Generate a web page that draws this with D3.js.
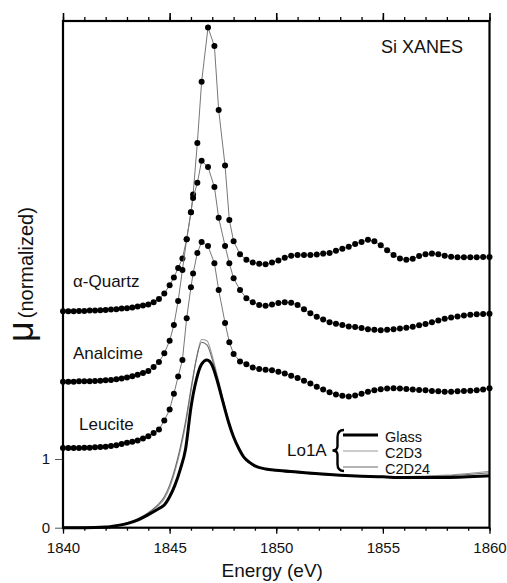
<!DOCTYPE html>
<html><head><meta charset="utf-8">
<script src="https://cdn.jsdelivr.net/npm/d3@7"></script>
<style>body{margin:0;background:#fff}svg{display:block}text{font-family:"Liberation Sans",Arial,sans-serif;fill:#111}</style>
</head><body><svg id="c" width="507" height="583"></svg>
<script>
// ---- data ----
const energyMinerals = [1840,1840.25,1840.5,1840.75,1841,1841.25,1841.5,1841.75,1842,1842.25,1842.5,1842.75,1843,1843.25,1843.5,1843.75,1844,1844.25,1844.5,
1844.75,1845,1845.2,1845.4,1845.6,1845.8,1846,1846.1,1846.3,1846.5,1846.8,1847.1,1847.3,1847.6,1847.8,1848,1848.3,1848.6,1848.9,
1849.2,1849.5,1849.8,1850.1,1850.4,1850.7,1851,1851.3,1851.6,1851.9,1852.2,1852.5,1852.8,1853.1,1853.4,1853.7,1854,1854.3,1854.6,1854.9,1855.2,1855.5,1855.8,1856.1,1856.4,1856.7,1857,1857.3,1857.6,1857.9,1858.2,1858.5,1858.8,1859.1,1859.4,1859.7,1860];
const quartz = [3.15,3.15,3.15,3.155,3.155,3.16,3.16,3.165,3.17,3.175,3.18,3.19,3.195,3.205,3.22,3.235,3.25,3.28,3.33,
3.41,3.53,3.64,3.78,3.92,4.20,4.59,4.85,5.60,6.49,7.28,7.01,6.08,5.27,4.48,4.17,3.98,3.90,3.86,
3.84,3.835,3.86,3.89,3.93,3.96,3.97,3.97,3.97,3.975,3.99,4.00,4.03,4.06,4.09,4.13,4.16,4.19,4.17,4.11,4.04,3.97,3.92,3.90,3.915,3.955,3.98,3.99,3.98,3.96,3.945,3.935,3.935,3.935,3.935,3.94,3.94];
const analcime = [2.125,2.125,2.125,2.13,2.13,2.13,2.135,2.14,2.145,2.15,2.16,2.17,2.185,2.205,2.225,2.25,2.28,2.34,2.41,
2.54,2.72,2.95,3.30,3.75,4.20,4.59,4.80,5.02,5.34,5.25,4.96,4.51,4.10,3.85,3.63,3.46,3.34,3.28,
3.24,3.23,3.25,3.27,3.28,3.275,3.24,3.18,3.12,3.07,3.03,2.99,2.97,2.95,2.93,2.92,2.905,2.89,2.88,2.875,2.88,2.89,2.90,2.91,2.925,2.945,2.965,2.99,3.015,3.04,3.06,3.075,3.09,3.10,3.105,3.11,3.115];
const leucite = [1.16,1.16,1.16,1.16,1.165,1.165,1.17,1.175,1.18,1.19,1.20,1.22,1.235,1.25,1.27,1.30,1.33,1.38,1.43,
1.56,1.72,1.95,2.20,2.44,3.05,3.50,3.70,4.00,4.16,4.10,3.85,3.46,2.98,2.70,2.53,2.42,2.38,2.33,
2.31,2.30,2.29,2.27,2.245,2.21,2.18,2.14,2.10,2.05,2.01,1.97,1.94,1.92,1.91,1.925,1.95,1.98,2.00,2.015,2.025,2.03,2.025,2.02,2.01,2.005,2.0,1.99,1.985,1.98,1.98,1.985,1.99,1.995,2.0,2.01,2.03];

const energyGlass = [1840,1841,1842,1842.5,1843,1843.5,1844,1844.5,1844.75,1845,1845.25,1845.5,1845.75,1846,1846.25,1846.5,1846.75,1847,1847.25,1847.5,1847.75,1848,1848.25,1848.5,1848.75,1849,1849.5,1850,1851,1852,1853,1854,1855,1856,1857,1858,1859,1860];
const glass = [0,0,0.01,0.03,0.06,0.11,0.19,0.28,0.33,0.45,0.62,0.85,1.15,1.75,2.15,2.38,2.44,2.36,2.12,1.83,1.55,1.32,1.15,1.02,0.95,0.9,0.855,0.835,0.81,0.785,0.765,0.75,0.74,0.73,0.73,0.73,0.74,0.755];
const c2d3 = [0,0,0.01,0.03,0.06,0.12,0.21,0.33,0.42,0.58,0.82,1.12,1.50,1.98,2.45,2.74,2.72,2.50,2.20,1.88,1.58,1.33,1.15,1.02,0.95,0.9,0.855,0.835,0.80,0.775,0.76,0.75,0.745,0.745,0.75,0.765,0.79,0.82];
const c2d24 = [0,0,0.01,0.03,0.07,0.13,0.22,0.35,0.45,0.62,0.86,1.17,1.55,2.02,2.45,2.70,2.66,2.45,2.16,1.85,1.56,1.32,1.14,1.01,0.945,0.895,0.855,0.83,0.80,0.775,0.76,0.75,0.745,0.74,0.745,0.755,0.775,0.80];

const xTickValues = [1840,1845,1850,1855,1860];
const xMinorValues = d3.range(1840,1861,1);
const yTickValues = [0,1];
const mineralNames = ["α-Quartz","Analcime","Leucite"];
const legendNames = ["Glass","C2D3","C2D24"];

// ---- layout ----
const L = 63, R = 489.5, T = 21, B = 527.7;
const x = d3.scaleLinear().domain([1840,1860]).range([L,R]);
const y = d3.scaleLinear().domain([0,7.375]).range([B,T]);
const svg = d3.select("#c");

// glass curves
const gl = d3.line().x((d,i)=>x(energyGlass[i])).y(d=>y(d)).curve(d3.curveMonotoneX);
svg.append("path").attr("d",gl(c2d3)).attr("fill","none").attr("stroke","#9a9a9a").attr("stroke-width",1.1);
svg.append("path").attr("d",gl(c2d24)).attr("fill","none").attr("stroke","#6a6a6a").attr("stroke-width",1.1);
svg.append("path").attr("d",gl(glass)).attr("fill","none").attr("stroke","#000").attr("stroke-width",3);

// mineral series
const ml = d3.line().x((d,i)=>x(energyMinerals[i])).y(d=>y(d));
[quartz, analcime, leucite].forEach(s=>{
  svg.append("path").attr("d",ml(s)).attr("fill","none").attr("stroke","#777").attr("stroke-width",1);
  svg.append("g").selectAll("circle").data(s).join("circle")
    .attr("cx",(d,i)=>x(energyMinerals[i])).attr("cy",d=>y(d)).attr("r",3).attr("fill","#000");
});

// axes
const bottomMinor = d3.axisBottom(x).tickValues(xMinorValues).tickSize(3).tickFormat("");
svg.append("g").attr("transform",`translate(0,${B})`).call(bottomMinor)
  .call(g=>{g.select(".domain").remove(); g.selectAll("line").attr("stroke","#000").attr("stroke-width",1.3);});
const bottomMajor = d3.axisBottom(x).tickValues(xTickValues).tickSize(6).tickPadding(9).tickFormat(d3.format("d"));
svg.append("g").attr("transform",`translate(0,${B})`).call(bottomMajor)
  .call(g=>{g.select(".domain").remove(); g.selectAll("line").attr("stroke","#000").attr("stroke-width",1.3);
    g.selectAll("text").attr("font-size",15).attr("font-family","Liberation Sans, Arial, sans-serif").attr("fill","#111");});
const topMinor = d3.axisTop(x).tickValues(xMinorValues).tickSize(4).tickFormat("");
svg.append("g").attr("transform",`translate(0,${T})`).call(topMinor)
  .call(g=>{g.select(".domain").remove(); g.selectAll("line").attr("stroke","#000").attr("stroke-width",1.3);});
const topMajor = d3.axisTop(x).tickValues(xTickValues).tickSize(8).tickFormat("");
svg.append("g").attr("transform",`translate(0,${T})`).call(topMajor)
  .call(g=>{g.select(".domain").remove(); g.selectAll("line").attr("stroke","#000").attr("stroke-width",1.6);});
const leftAxis = d3.axisLeft(y).tickValues(yTickValues).tickSize(8).tickPadding(5).tickFormat(d3.format("d"));
svg.append("g").attr("transform",`translate(${L},0)`).call(leftAxis)
  .call(g=>{g.select(".domain").remove(); g.selectAll("line").attr("stroke","#555").attr("stroke-width",1);
    g.selectAll("text").attr("font-size",15).attr("font-family","Liberation Sans, Arial, sans-serif").attr("fill","#111");});

// frame
svg.append("rect").attr("x",L).attr("y",T).attr("width",R-L).attr("height",B-T)
  .attr("fill","none").attr("stroke","#000").attr("stroke-width",2.2);

// labels
svg.append("text").attr("x",381).attr("y",53).attr("font-size",18).text("Si XANES");
const labelPos = [[73,287],[73,359],[79,430]];
mineralNames.forEach((n,i)=>svg.append("text").attr("x",labelPos[i][0]).attr("y",labelPos[i][1]).attr("font-size",17).text(n));

svg.append("text").attr("x",287).attr("y",456).attr("font-size",17).text("Lo1A");
svg.append("path").attr("d","M344,430 Q337.5,430 337.5,437 L337.5,446 Q337.5,450.5 332.5,450.5 Q337.5,450.5 337.5,455 L337.5,464 Q337.5,471 344,471")
  .attr("fill","none").attr("stroke","#000").attr("stroke-width",2.4);
const legendStyles = [["#000",3],["#9a9a9a",1.1],["#6a6a6a",1.1]];
legendNames.forEach((n,i)=>{
  const ly = 435 + i*16;
  svg.append("line").attr("x1",343).attr("x2",378).attr("y1",ly).attr("y2",ly)
    .attr("stroke",legendStyles[i][0]).attr("stroke-width",legendStyles[i][1]);
  svg.append("text").attr("x",385).attr("y",ly+7).attr("font-size",14.5).text(n);
});

// axis titles
svg.append("text").attr("x",(L+R)/2-4).attr("y",577).attr("text-anchor","middle").attr("font-size",19).text("Energy (eV)");
const yt = svg.append("text").attr("transform","translate(33,342) rotate(-90)");
yt.append("tspan").attr("font-size",36).text("μ");
yt.append("tspan").attr("font-size",20).attr("dx",3).text("(normalized)");
</script></body></html>
